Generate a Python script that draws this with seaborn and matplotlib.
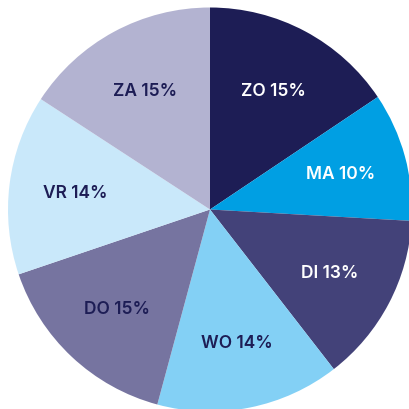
import matplotlib.pyplot as plt
import seaborn as sns

# share per day (slice sizes) and the printed labels
days = ['ZO', 'MA', 'DI', 'WO', 'DO', 'VR', 'ZA']
shares = [15.6, 10.3, 13.6, 14.7, 15.6, 14.4, 15.8]
pct_labels = ['15%', '10%', '13%', '14%', '15%', '14%', '15%']

colors = ['#1d1d55', '#009fe3', '#434279', '#83d0f5', '#7674a0', '#c9e8fa', '#b3b3d1']
text_colors = ['white', 'white', 'white', '#1d1d55', '#1d1d55', '#1d1d55', '#1d1d55']

sns.set_theme(style='white')
plt.rcParams['font.family'] = ['Inter', 'DejaVu Sans']

fig = plt.figure(figsize=(4.1, 4.1), dpi=100)
ax = fig.add_axes([0, 0, 1, 1])

wedges, texts = ax.pie(
    shares,
    labels=[f'{d} {p}' for d, p in zip(days, pct_labels)],
    colors=sns.color_palette(colors),
    startangle=90,
    counterclock=False,
    labeldistance=0.67,
    wedgeprops={'linewidth': 0},
    textprops={'fontsize': 12.5, 'fontweight': 'semibold', 'ha': 'center', 'va': 'center'},
)
for t, c in zip(texts, text_colors):
    t.set_color(c)
    t.set_horizontalalignment('center')

# radius 1 = 202 px, centre at (210, 210.5) px from top-left
ax.set_xlim(-210 / 202, 200 / 202)
ax.set_ylim(-199.5 / 202, 210.5 / 202)
ax.set_aspect('equal')
ax.axis('off')

fig.savefig('out.png', dpi=100)
